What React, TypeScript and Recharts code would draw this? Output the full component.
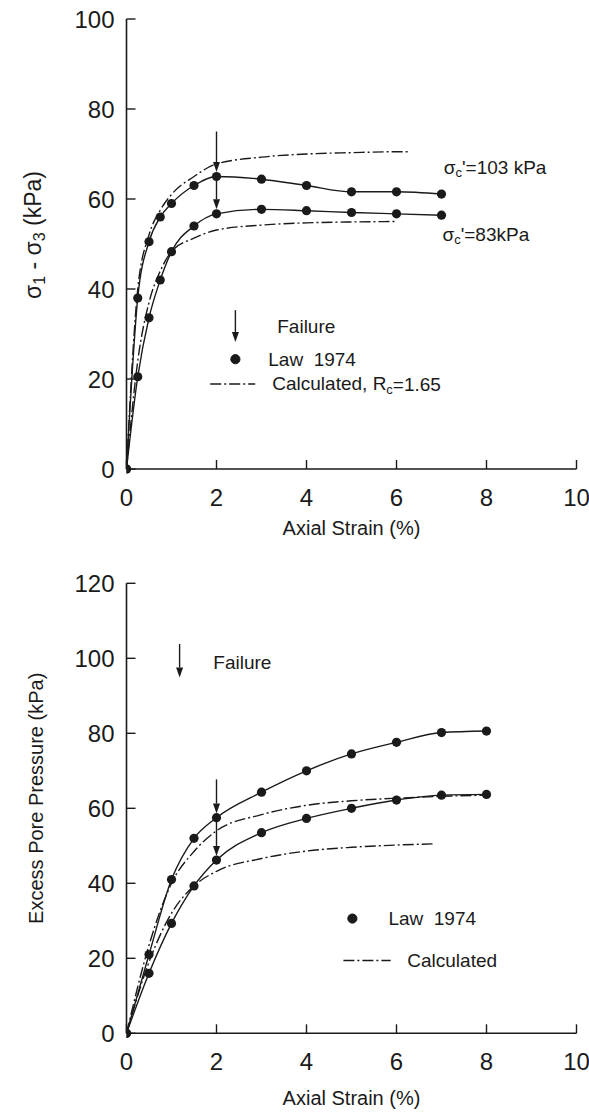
import React from 'react';
import { ComposedChart, Line, XAxis, YAxis, ReferenceLine, ReferenceDot, Label } from 'recharts';

const FONT = '"Liberation Sans", Arial, Helvetica, sans-serif';
const INK = '#1a1a1a';
const DASHDOT = '11 3 2 3';

// ---------- Top chart: deviator stress vs axial strain ----------
const topLaw103X = [0, 0.25, 0.5, 0.75, 1, 1.5, 2, 3, 4, 5, 6, 7];
const topLaw103Y = [0, 38, 50.5, 56, 59, 63, 65, 64.4, 63, 61.6, 61.6, 61.1];
const topLaw83X = [0, 0.25, 0.5, 0.75, 1, 1.5, 2, 3, 4, 5, 6, 7];
const topLaw83Y = [0, 20.5, 33.6, 42, 48.3, 54, 56.7, 57.7, 57.4, 57, 56.7, 56.4];
const topCalc103X = [0, 0.25, 0.5, 0.75, 1, 1.5, 2, 3, 4, 5, 6, 6.3];
const topCalc103Y = [0, 40, 52, 57.5, 61, 65, 67.8, 69.3, 70, 70.3, 70.5, 70.5];
const topCalc83X = [0, 0.25, 0.5, 0.75, 1, 1.5, 2, 3, 4, 5, 6];
const topCalc83Y = [0, 24, 37, 44, 48.3, 51.3, 53.1, 54.2, 54.7, 54.9, 55];
const topFailure = [
  { x: 2, from: 75, to: 66 },
  { x: 2, from: 65, to: 57.7 },
];
const topXTicks = [0, 2, 4, 6, 8, 10];
const topYTicks = [0, 20, 40, 60, 80, 100];

// ---------- Bottom chart: excess pore pressure vs axial strain ----------
const botLawUpX = [0, 0.5, 1, 1.5, 2, 3, 4, 5, 6, 7, 8];
const botLawUpY = [0, 21, 41, 52, 57.5, 64.3, 70, 74.5, 77.6, 80.2, 80.6];
const botLawLoX = [0, 0.5, 1, 1.5, 2, 3, 4, 5, 6, 7, 8];
const botLawLoY = [0, 16, 29.3, 39.3, 46.2, 53.5, 57.3, 60, 62.2, 63.5, 63.7];
const botCalcUpX = [0, 0.5, 1, 1.5, 2, 3, 4, 5, 6, 7, 8];
const botCalcUpY = [0, 23.5, 40, 48.5, 54, 58.3, 60.8, 62, 62.7, 63.2, 63.5];
const botCalcLoX = [0, 0.5, 1, 1.5, 2, 3, 4, 5, 6, 6.8];
const botCalcLoY = [0, 19, 32, 39.3, 43.2, 46.6, 48.6, 49.6, 50.2, 50.5];
const botFailure = [
  { x: 2, from: 67.7, to: 58.6 },
  { x: 2, from: 57.5, to: 47.3 },
];
const botXTicks = [0, 2, 4, 6, 8, 10];
const botYTicks = [0, 20, 40, 60, 80, 100, 120];

const zip = (xs: number[], ys: number[]) => xs.map((x, i) => ({ x, y: ys[i] }));

const TICK_FONT = 24;
const TITLE_FONT = 20;
const LEG_FONT = 19;

const XTickBottom = (p: any) => (
  <g>
    <line x1={p.x} y1={p.y} x2={p.x} y2={p.y - 9} stroke={INK} strokeWidth={1.4} />
    <text x={p.x} y={p.y + 28} textAnchor="middle" dominantBaseline="central" fontFamily={FONT} fontSize={TICK_FONT} fill={INK}>
      {p.payload.value}
    </text>
  </g>
);
const XTickTop = (p: any) => (
  <line x1={p.x} y1={p.y} x2={p.x} y2={p.y + 9} stroke={INK} strokeWidth={1.4} />
);
const YTickLeft = (p: any) => (
  <g>
    <line x1={p.x} y1={p.y} x2={p.x + 9} y2={p.y} stroke={INK} strokeWidth={1.4} />
    <text x={p.x - 12} y={p.y} textAnchor="end" dominantBaseline="central" fontFamily={FONT} fontSize={TICK_FONT} fill={INK}>
      {p.payload.value}
    </text>
  </g>
);
const YTickRight = (p: any) => (
  <line x1={p.x} y1={p.y} x2={p.x - 9} y2={p.y} stroke={INK} strokeWidth={1.4} />
);

const ArrowShape = (props: any) => {
  const { x1, y1, x2, y2 } = props;
  const head = 10;
  const hw = 3.5;
  const dir = y2 > y1 ? 1 : -1;
  const hb = y2 - dir * head;
  return (
    <g>
      <line x1={x1} y1={y1} x2={x2} y2={hb} stroke={INK} strokeWidth={1.4} />
      <polygon points={`${x2 - hw},${hb} ${x2 + hw},${hb} ${x2},${y2}`} fill={INK} />
    </g>
  );
};

const textShape = (content: React.ReactNode, size = LEG_FONT) => (p: any) => (
  <text x={p.cx} y={p.cy} dominantBaseline="central" textAnchor="start" fontFamily={FONT} fontSize={size} fill={INK}>
    {content}
  </text>
);

const Sub = ({ children }: { children: React.ReactNode }) => (
  <tspan dy={5} fontSize={13}>{children}</tspan>
);

const xTitle = (cy: number) => (props: any) => {
  const vb = props.viewBox;
  return (
    <text x={vb.x + vb.width / 2} y={vb.y + cy} textAnchor="middle" dominantBaseline="central" fontFamily={FONT} fontSize={TITLE_FONT} fill={INK}>
      Axial Strain (%)
    </text>
  );
};

const TopYTitle = (props: any) => {
  const vb = props.viewBox;
  const cx = 33;
  const cy = vb.y + vb.height / 2 - 9;
  return (
    <text transform={`translate(${cx},${cy}) rotate(-90)`} textAnchor="middle" dominantBaseline="central" fontFamily={FONT} fontSize={23} fill={INK}>
      <tspan>σ</tspan>
      <tspan dy={6} fontSize={16}>1</tspan>
      <tspan dy={-6}>{'\u00A0-\u00A0σ'}</tspan>
      <tspan dy={6} fontSize={16}>3</tspan>
      <tspan dy={-6}>{'\u00A0(kPa)'}</tspan>
    </text>
  );
};

const BotYTitle = (props: any) => {
  const vb = props.viewBox;
  const cx = 36;
  const cy = vb.y + vb.height / 2 - 10;
  return (
    <text transform={`translate(${cx},${cy}) rotate(-90)`} textAnchor="middle" dominantBaseline="central" fontFamily={FONT} fontSize={TITLE_FONT} fill={INK}>
      Excess Pore Pressure (kPa)
    </text>
  );
};

const lawDot = { r: 4.6, fill: INK, stroke: INK, strokeWidth: 0 };

const Frame = (yTicks: number[], xTicks: number[], yMax: number, xHeight: number, YTitle: any, xTitleY: number) => [
  <XAxis key="xb" xAxisId={0} type="number" dataKey="x" domain={[0, 10]} ticks={xTicks} interval={0}
    allowDataOverflow height={xHeight} tickSize={0} tickMargin={0} tick={XTickBottom}
    axisLine={{ stroke: INK, strokeWidth: 1.6 }} tickLine={false}>
    <Label content={xTitle(xTitleY)} />
  </XAxis>,
  <XAxis key="xt" xAxisId="top" orientation="top" type="number" dataKey="x" domain={[0, 10]} ticks={xTicks} interval={0}
    height={0} tickSize={0} tickMargin={0} tick={XTickTop} axisLine={{ stroke: INK, strokeWidth: 1.6 }} tickLine={false} />,
  <YAxis key="yl" yAxisId={0} type="number" domain={[0, yMax]} ticks={yTicks} interval={0} width={126.5}
    tickSize={0} tickMargin={0} tick={YTickLeft} axisLine={{ stroke: INK, strokeWidth: 1.6 }} tickLine={false}>
    <Label content={YTitle} />
  </YAxis>,
  <YAxis key="yr" yAxisId="right" orientation="right" type="number" domain={[0, yMax]} ticks={yTicks} interval={0} width={0}
    tickSize={0} tickMargin={0} tick={YTickRight} axisLine={{ stroke: INK, strokeWidth: 1.6 }} tickLine={false} />,
];

function TopChart() {
  return (
    <ComposedChart width={589} height={550} margin={{ top: 19, right: 12.5, bottom: 0, left: 0 }}>
      {Frame(topYTicks, topXTicks, 100, 81, TopYTitle, 59)}
      <Line data={zip(topCalc103X, topCalc103Y)} dataKey="y" type="monotone" stroke={INK} strokeWidth={1.4}
        strokeDasharray={DASHDOT} dot={false} isAnimationActive={false} />
      <Line data={zip(topCalc83X, topCalc83Y)} dataKey="y" type="monotone" stroke={INK} strokeWidth={1.4}
        strokeDasharray={DASHDOT} dot={false} isAnimationActive={false} />
      <Line data={zip(topLaw103X, topLaw103Y)} dataKey="y" type="monotone" stroke={INK} strokeWidth={1.4}
        dot={lawDot} isAnimationActive={false} />
      <Line data={zip(topLaw83X, topLaw83Y)} dataKey="y" type="monotone" stroke={INK} strokeWidth={1.4}
        dot={lawDot} isAnimationActive={false} />
      {topFailure.map((f, i) => (
        <ReferenceLine key={`tf${i}`} segment={[{ x: f.x, y: f.from }, { x: f.x, y: f.to }]} shape={ArrowShape} />
      ))}
      <ReferenceDot x={7.05} y={67.1} r={0} shape={textShape(<>σ<Sub>c</Sub><tspan dy={-5}>'=103 kPa</tspan></>)} />
      <ReferenceDot x={7.02} y={52.2} r={0} shape={textShape(<>σ<Sub>c</Sub><tspan dy={-5}>'=83kPa</tspan></>)} />
      {/* legend */}
      <ReferenceLine segment={[{ x: 2.42, y: 35.3 }, { x: 2.42, y: 28.2 }]} shape={ArrowShape} />
      <ReferenceDot x={3.35} y={31.6} r={0} shape={textShape('Failure')} />
      <ReferenceDot x={2.42} y={24.4} r={4.6} fill={INK} stroke={INK} />
      <ReferenceDot x={3.15} y={24.4} r={0} shape={textShape('Law\u00A0\u00A01974')} />
      <ReferenceLine segment={[{ x: 1.86, y: 18.9 }, { x: 2.86, y: 18.9 }]} stroke={INK} strokeWidth={1.4} strokeDasharray={DASHDOT} />
      <ReferenceDot x={3.24} y={18.9} r={0} shape={textShape(<>Calculated, R<Sub>c</Sub><tspan dy={-5}>=1.65</tspan></>)} />
    </ComposedChart>
  );
}

function BottomChart() {
  return (
    <ComposedChart width={589} height={558} margin={{ top: 23.3, right: 12.5, bottom: 0, left: 0 }}>
      {Frame(botYTicks, botXTicks, 120, 84.7, BotYTitle, 65)}
      <Line data={zip(botCalcUpX, botCalcUpY)} dataKey="y" type="monotone" stroke={INK} strokeWidth={1.4}
        strokeDasharray={DASHDOT} dot={false} isAnimationActive={false} />
      <Line data={zip(botCalcLoX, botCalcLoY)} dataKey="y" type="monotone" stroke={INK} strokeWidth={1.4}
        strokeDasharray={DASHDOT} dot={false} isAnimationActive={false} />
      <Line data={zip(botLawUpX, botLawUpY)} dataKey="y" type="monotone" stroke={INK} strokeWidth={1.4}
        dot={lawDot} isAnimationActive={false} />
      <Line data={zip(botLawLoX, botLawLoY)} dataKey="y" type="monotone" stroke={INK} strokeWidth={1.4}
        dot={lawDot} isAnimationActive={false} />
      {botFailure.map((f, i) => (
        <ReferenceLine key={`bf${i}`} segment={[{ x: f.x, y: f.from }, { x: f.x, y: f.to }]} shape={ArrowShape} />
      ))}
      {/* legend */}
      <ReferenceLine segment={[{ x: 1.18, y: 103.8 }, { x: 1.18, y: 94.9 }]} shape={ArrowShape} />
      <ReferenceDot x={1.93} y={98.8} r={0} shape={textShape('Failure')} />
      <ReferenceDot x={5.02} y={30.6} r={4.6} fill={INK} stroke={INK} />
      <ReferenceDot x={5.82} y={30.6} r={0} shape={textShape('Law\u00A0\u00A01974')} />
      <ReferenceLine segment={[{ x: 4.82, y: 19.4 }, { x: 5.87, y: 19.4 }]} stroke={INK} strokeWidth={1.4} strokeDasharray={DASHDOT} />
      <ReferenceDot x={6.24} y={19.4} r={0} shape={textShape('Calculated')} />
    </ComposedChart>
  );
}

export default function App() {
  return (
    <div style={{ position: 'absolute', left: 0, top: 0, width: 589, height: 1118, background: '#fff', overflow: 'hidden' }}>
      <div style={{ position: 'absolute', left: 0, top: 0 }}>
        <TopChart />
      </div>
      <div style={{ position: 'absolute', left: 0, top: 560 }}>
        <BottomChart />
      </div>
    </div>
  );
}
